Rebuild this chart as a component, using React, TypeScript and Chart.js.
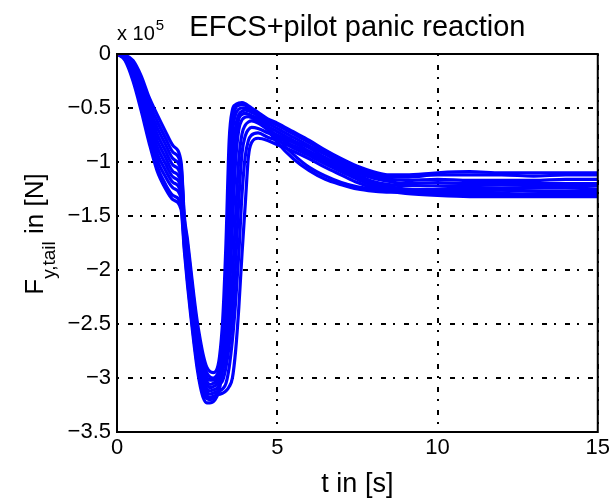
import React, { useEffect, useRef } from 'react';
import { Chart, registerables } from 'chart.js';

Chart.register(...registerables);

const FONT = '"Liberation Sans", Arial, Helvetica, sans-serif';

const TITLE = 'EFCS+pilot panic reaction';
const X_LABEL = 't in [s]';
const Y_LABEL_MAIN = 'F';
const Y_LABEL_SUB = 'y,tail';
const Y_LABEL_REST = ' in [N]';
const EXP_BASE = 'x 10';
const EXP_POWER = '5';

const X_TICKS = [0, 5, 10, 15];
const Y_TICKS = [0, -0.5, -1, -1.5, -2, -2.5, -3, -3.5];

// time [s]
const T = [0, 0.25, 0.5, 0.75, 1, 1.25, 1.5, 1.75, 2,
  2.1, 2.2, 2.3, 2.4, 2.5, 2.6, 2.7, 2.8, 2.9,
  3.0, 3.1, 3.2, 3.3, 3.4, 3.5, 3.6, 3.7, 3.8, 3.9,
  4.0, 4.1, 4.2, 4.4, 4.7,
  5.0, 5.5, 6.0, 6.5, 7.0, 7.5, 8.0, 8.5, 9.0,
  10, 11, 12, 13, 14, 15];

// F_y,tail in units of 1e5 N, one array per simulation run
const RUN_1 = [0, -0.01, -0.06, -0.2, -0.4, -0.56, -0.71, -0.85, -1.0,
  -1.5, -1.72, -1.98, -2.24, -2.47, -2.65, -2.8, -2.9, -2.94,
  -2.95, -2.93, -2.8, -2.45, -1.75, -0.8, -0.52, -0.47, -0.455, -0.45,
  -0.46, -0.48, -0.5, -0.54, -0.6,
  -0.64, -0.72, -0.8, -0.89, -0.97, -1.04, -1.09, -1.12, -1.12,
  -1.1, -1.09, -1.1, -1.1, -1.1, -1.1];
const RUN_2 = [0, -0.015, -0.07, -0.23, -0.45, -0.62, -0.77, -0.91, -1.04,
  -1.53, -1.76, -2.03, -2.29, -2.52, -2.71, -2.86, -2.95, -2.99,
  -3.0, -2.98, -2.9, -2.6, -2.15, -1.15, -0.62, -0.5, -0.475, -0.47,
  -0.475, -0.49, -0.51, -0.55, -0.62,
  -0.66, -0.74, -0.82, -0.91, -0.99, -1.06, -1.11, -1.14, -1.14,
  -1.12, -1.12, -1.12, -1.13, -1.12, -1.12];
const RUN_3 = [0, -0.02, -0.09, -0.26, -0.5, -0.68, -0.83, -0.97, -1.09,
  -1.56, -1.8, -2.08, -2.34, -2.57, -2.76, -2.91, -2.99, -3.02,
  -3.02, -3.0, -2.93, -2.72, -2.4, -1.85, -1.05, -0.68, -0.56, -0.53,
  -0.52, -0.525, -0.54, -0.57, -0.64,
  -0.69, -0.77, -0.85, -0.93, -1.01, -1.08, -1.13, -1.16, -1.17,
  -1.16, -1.17, -1.17, -1.17, -1.16, -1.16];
const RUN_4 = [0, -0.02, -0.1, -0.29, -0.54, -0.74, -0.89, -1.03, -1.14,
  -1.59, -1.85, -2.13, -2.39, -2.62, -2.81, -2.95, -3.03, -3.06,
  -3.05, -3.03, -2.97, -2.85, -2.6, -2.25, -1.6, -1.0, -0.7, -0.61,
  -0.585, -0.58, -0.59, -0.62, -0.67,
  -0.72, -0.8, -0.87, -0.96, -1.03, -1.1, -1.15, -1.18, -1.2,
  -1.19, -1.2, -1.2, -1.2, -1.2, -1.2];
const RUN_5 = [0, -0.025, -0.12, -0.32, -0.59, -0.8, -0.95, -1.09, -1.19,
  -1.62, -1.9, -2.18, -2.44, -2.67, -2.86, -2.99, -3.06, -3.09,
  -3.08, -3.06, -3.01, -2.93, -2.77, -2.5, -2.1, -1.5, -0.98, -0.74,
  -0.66, -0.63, -0.62, -0.64, -0.7,
  -0.75, -0.82, -0.9, -0.98, -1.05, -1.12, -1.18, -1.21, -1.22,
  -1.22, -1.22, -1.21, -1.22, -1.22, -1.22];
const RUN_6 = [0, -0.03, -0.13, -0.35, -0.63, -0.86, -1.01, -1.14, -1.24,
  -1.66, -1.95, -2.23, -2.49, -2.72, -2.91, -3.03, -3.1, -3.12,
  -3.11, -3.1, -3.06, -3.02, -2.9, -2.7, -2.4, -1.95, -1.35, -0.92,
  -0.76, -0.7, -0.68, -0.69, -0.73,
  -0.77, -0.85, -0.92, -1.0, -1.07, -1.14, -1.2, -1.23, -1.25,
  -1.26, -1.26, -1.26, -1.27, -1.27, -1.27];
const RUN_7 = [0, -0.035, -0.15, -0.38, -0.67, -0.92, -1.07, -1.19, -1.29,
  -1.7, -2.0, -2.28, -2.54, -2.77, -2.95, -3.07, -3.13, -3.15,
  -3.14, -3.13, -3.12, -3.1, -3.05, -2.9, -2.65, -2.3, -1.85, -1.3,
  -0.95, -0.8, -0.75, -0.73, -0.77,
  -0.8, -0.87, -0.94, -1.02, -1.09, -1.16, -1.22, -1.25, -1.27,
  -1.29, -1.29, -1.29, -1.3, -1.3, -1.3];
const RUN_8 = [0, -0.04, -0.17, -0.42, -0.71, -0.98, -1.13, -1.24, -1.34,
  -1.74, -2.05, -2.33, -2.59, -2.82, -3.0, -3.11, -3.16, -3.18,
  -3.17, -3.16, -3.15, -3.14, -3.12, -3.08, -3.0, -2.75, -2.35, -1.85,
  -1.4, -0.95, -0.82, -0.78, -0.8,
  -0.84, -0.9, -0.97, -1.05, -1.12, -1.19, -1.24, -1.27, -1.29,
  -1.31, -1.32, -1.32, -1.32, -1.32, -1.32];
const RUN_9 = [0, -0.05, -0.22, -0.48, -0.78, -1.04, -1.2, -1.31, -1.4,
  -1.78, -2.1, -2.38, -2.64, -2.87, -3.04, -3.15, -3.19, -3.2,
  -3.19, -3.15, -3.05, -2.75, -2.3, -1.45, -0.75, -0.56, -0.51, -0.5,
  -0.5, -0.51, -0.53, -0.57, -0.67,
  -0.78, -0.93, -1.05, -1.13, -1.19, -1.23, -1.25, -1.26, -1.26,
  -1.25, -1.24, -1.24, -1.24, -1.24, -1.25];
const RUN_10 = [0, -0.06, -0.25, -0.52, -0.82, -1.08, -1.24, -1.35, -1.44,
  -1.82, -2.14, -2.42, -2.68, -2.91, -3.08, -3.19, -3.23, -3.23,
  -3.22, -3.18, -3.1, -2.88, -2.55, -2.1, -1.35, -0.8, -0.6, -0.56,
  -0.55, -0.555, -0.57, -0.6, -0.7,
  -0.82, -0.97, -1.08, -1.16, -1.21, -1.25, -1.27, -1.28, -1.28,
  -1.28, -1.27, -1.26, -1.27, -1.28, -1.28];

const RUNS = [RUN_1, RUN_2, RUN_3, RUN_4, RUN_5, RUN_6, RUN_7, RUN_8, RUN_9, RUN_10];

// initial-condition marker
const START_T = [0];
const START_F = [0];

const annotPlugin = {
  id: 'annot',
  afterDraw(chart: any) {
    const { ctx, chartArea: a } = chart;
    ctx.save();
    ctx.setLineDash([]);
    ctx.strokeStyle = '#000';
    ctx.lineWidth = 2;
    ctx.strokeRect(a.left, a.top, a.right - a.left, a.bottom - a.top);

    ctx.fillStyle = '#000';
    ctx.textBaseline = 'alphabetic';
    const cx = (a.left + a.right) / 2;

    // title
    ctx.textAlign = 'center';
    ctx.font = `29px ${FONT}`;
    ctx.fillText(TITLE, cx, 36);

    // exponent
    ctx.textAlign = 'left';
    ctx.font = `20px ${FONT}`;
    ctx.fillText(EXP_BASE, a.left, 40);
    const wb = ctx.measureText(EXP_BASE).width;
    ctx.font = `15px ${FONT}`;
    ctx.fillText(EXP_POWER, a.left + wb + 1, 30);

    // x label
    ctx.textAlign = 'center';
    ctx.font = `27px ${FONT}`;
    ctx.fillText(X_LABEL, cx, 492);

    // y label (rotated, with subscript)
    ctx.font = `26px ${FONT}`;
    const w1 = ctx.measureText(Y_LABEL_MAIN).width;
    const w3 = ctx.measureText(Y_LABEL_REST).width;
    ctx.font = `19px ${FONT}`;
    const w2 = ctx.measureText(Y_LABEL_SUB).width;
    const total = w1 + w2 + w3;
    ctx.translate(43, 234);
    ctx.rotate(-Math.PI / 2);
    ctx.textAlign = 'left';
    const x0 = -total / 2;
    ctx.font = `26px ${FONT}`;
    ctx.fillText(Y_LABEL_MAIN, x0, 0);
    ctx.font = `19px ${FONT}`;
    ctx.fillText(Y_LABEL_SUB, x0 + w1, 12);
    ctx.font = `26px ${FONT}`;
    ctx.fillText(Y_LABEL_REST, x0 + w1 + w2, 0);
    ctx.restore();
  },
};

export default function App() {
  const ref = useRef<HTMLCanvasElement>(null);

  useEffect(() => {
    if (!ref.current) return;
    const datasets: any[] = [
      {
        label: 'start',
        data: START_T.map((t, i) => ({ x: t, y: START_F[i] })),
        showLine: false,
        pointRadius: 2,
        pointBackgroundColor: '#ff0000',
        pointBorderColor: '#ff0000',
        borderWidth: 0,
        order: 0,
      },
      ...RUNS.map((run, k) => ({
        label: `run ${k + 1}`,
        data: T.map((t, i) => ({ x: t, y: run[i] })),
        borderColor: '#0000ff',
        backgroundColor: '#0000ff',
        borderWidth: 3.2,
        pointRadius: 0,
        fill: false,
        cubicInterpolationMode: 'monotone',
        borderJoinStyle: 'round',
        borderCapStyle: 'round',
        order: 1,
      })),
    ];

    const chart = new Chart(ref.current, {
      type: 'line',
      data: { datasets },
      options: {
        responsive: false,
        animation: false,
        devicePixelRatio: 1,
        layout: { padding: { left: 0, top: 54, right: 15, bottom: 0 } },
        plugins: {
          legend: { display: false },
          tooltip: { enabled: false },
          title: { display: false },
        },
        scales: {
          x: {
            type: 'linear',
            min: 0,
            max: 15,
            afterFit: (s: any) => { s.height = 69; },
            afterBuildTicks: (s: any) => { s.ticks = X_TICKS.map((v) => ({ value: v })); },
            ticks: {
              color: '#000',
              font: { family: FONT, size: 22 },
              padding: 3,
              maxRotation: 0,
              callback: (v: any) => String(v),
            },
            grid: { color: '#000', lineWidth: 2, drawTicks: false },
            border: { display: false, dash: [2, 9, 5, 7] },
          },
          y: {
            type: 'linear',
            min: -3.5,
            max: 0,
            afterFit: (s: any) => { s.width = 117; },
            afterBuildTicks: (s: any) => { s.ticks = Y_TICKS.map((v) => ({ value: v })); },
            ticks: {
              color: '#000',
              font: { family: FONT, size: 22 },
              padding: 6,
              callback: (v: any) => {
                const n = Math.round(Number(v) * 10) / 10;
                return n === 0 ? '0' : '\u2212' + String(Math.abs(n));
              },
            },
            grid: { color: '#000', lineWidth: 2, drawTicks: false },
            border: { display: false, dash: [2, 9, 5, 7] },
          },
        },
      },
      plugins: [annotPlugin],
    });
    return () => chart.destroy();
  }, []);

  return (
    <canvas
      ref={ref}
      width={613}
      height={501}
      style={{ position: 'fixed', left: 0, top: 0, width: 613, height: 501, display: 'block', background: '#fff' }}
    />
  );
}
